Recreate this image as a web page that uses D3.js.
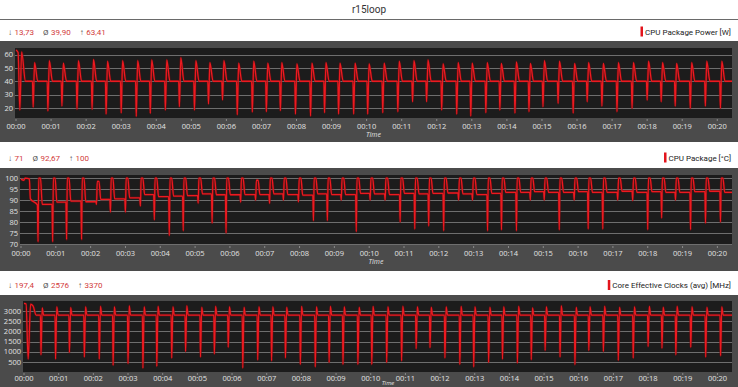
<!DOCTYPE html>
<html lang="en">
<head>
<meta charset="UTF-8">
<title>r15loop</title>
<script src="https://d3js.org/d3.v7.min.js"></script>
<style>
  body { margin: 0; background: #fff; }
  svg { display: block; font-family: "Open Sans", "Noto Sans", sans-serif; }
  .head { font-family: Roboto, "Open Sans", sans-serif; }
</style>
</head>
<body>
<div id="chart"></div>
<script>
// time axis (minutes), labels
const tickMinutes = [0, 1, 2, 3, 4, 5, 6, 7, 8, 9, 10, 11, 12, 13, 14, 15, 16, 17, 18, 19, 20];
const tickLabels = ["00:00", "00:01", "00:02", "00:03", "00:04", "00:05", "00:06", "00:07", "00:08", "00:09", "00:10",
  "00:11", "00:12", "00:13", "00:14", "00:15", "00:16", "00:17", "00:18", "00:19", "00:20"];
const endMinute = 20.42;

// moment each Cinebench run ends (the dip), in minutes
const cycleTimes = [0.49, 0.91, 1.31, 1.74, 2.17, 2.57, 3.00, 3.43, 3.83, 4.26, 4.66, 5.09, 5.49, 5.89, 6.31, 6.74,
  7.14, 7.54, 7.97, 8.40, 8.80, 9.20, 9.63, 10.03, 10.46, 10.89, 11.31, 11.71, 12.14, 12.57, 12.97, 13.40,
  13.80, 14.23, 14.63, 15.03, 15.46, 15.89, 16.29, 16.71, 17.14, 17.57, 18.00, 18.40, 18.80, 19.23, 19.66, 20.09];

// CPU Package Power [W]
const powerStart = [[0, 63.41], [0.06, 61.5], [0.11, 18.5], [0.16, 62], [0.27, 40]];
const powerLevel = 40;
const powerDips = [20.7, 17.8, 21.5, 19, 19, 15.5, 16.3, 13.73, 16, 18.5, 21, 18.5, 23, 26, 15, 17,
  17.3, 18, 15.5, 14, 16.5, 15.5, 15.5, 15.5, 16.5, 17.3, 24.7, 24.7, 18.5, 15.5, 14, 16.5,
  18.5, 16.2, 17.3, 21, 23.4, 16.2, 24.7, 21.5, 17.3, 19.8, 25.9, 24.7, 21.5, 19.8, 21.5, 19.8];
const powerPeaks = [54, 55.5, 53.5, 55.5, 56.3, 55, 55.5, 55.5, 56, 56, 57.7, 55.5, 54, 55.5, 53.5, 55,
  53.5, 54, 53, 53.5, 54, 53.5, 53.5, 53, 53.5, 55, 55.5, 56, 53, 54, 53.5, 54,
  53.3, 54.5, 53.3, 55.5, 55, 53.3, 54, 53.3, 54, 54, 55, 54, 53.3, 54, 55, 55];

// CPU Package [°C]
const tempStart = [[0, 99.5], [0.08, 99], [0.12, 100], [0.24, 99.6], [0.27, 90.5], [0.47, 87.8]];
const tempDips = [71, 71, 72, 72, 88, 84.5, 84.5, 87.3, 81, 73.8, 76, 88.6, 79.5, 75, 89, 90,
  88.5, 90, 89.2, 80.6, 80.6, 90, 75.6, 90, 90, 80, 76.8, 78.2, 76, 90, 90, 76,
  76.4, 76, 90, 90, 76.4, 90, 76.8, 76.8, 90, 89.7, 76.5, 81.8, 90, 76.5, 79.5, 80];
const tempPeaks = [100, 100, 100, 100, 98.5, 100, 100, 100, 100, 100, 100, 100, 100, 100, 100, 99,
  100, 100, 100, 100, 100, 100, 100, 100, 100, 100, 100, 100, 100, 100, 100, 100,
  100, 100, 100, 100, 100, 100, 100, 100, 100, 100, 100, 100, 100, 100, 100, 100];
const tempLevels = [88, 89, 89.5, 89.2, 90.3, 90.5, 91, 92.5, 91.5, 91.8, 92, 92.8, 92.4, 92.4, 92.5, 92.5,
  92.8, 92.5, 92.2, 92.8, 92.5, 92.5, 93, 92.8, 92.5, 93, 92.8, 93, 93.2, 92.8, 92.5, 93,
  93.5, 93.5, 93.8, 93.5, 93.5, 93.8, 93.5, 93.5, 94, 93.5, 93.8, 93.5, 93.5, 93.8, 94, 93.5];

// Core Effective Clocks (avg) [MHz]
const clockStart = [[0, 3370], [0.06, 3340], [0.12, 645], [0.19, 3330], [0.26, 3250], [0.35, 2800]];
const clockLevel = 2800;
const clockDips = [855, 645, 968, 742, 645, 339, 419, 197.4, 290, 694, 1016, 742, 903, 1226, 210, 600,
  560, 700, 380, 260, 480, 380, 380, 380, 480, 560, 1150, 1200, 700, 380, 260, 480,
  645, 452, 613, 1065, 742, 371, 1065, 1016, 581, 694, 1258, 1177, 855, 1226, 742, 806];
const clockPeaks = [3150, 3200, 3170, 3200, 3230, 3200, 3250, 3200, 3230, 3200, 3250, 3180, 3230, 3200, 3180, 3200,
  3200, 3180, 3220, 3200, 3230, 3200, 3180, 3220, 3200, 3230, 3200, 3180, 3200, 3220, 3200, 3180,
  3200, 3230, 3150, 3200, 3250, 3180, 3200, 3230, 3180, 3200, 3220, 3180, 3230, 3200, 3180, 3200];

// headers
const seriesNames = ["CPU Package Power [W]", "CPU Package [°C]", "Core Effective Clocks (avg) [MHz]"];
const minLabels = ["13,73", "71", "197,4"];
const avgLabels = ["39,90", "92,67", "2576"];
const maxLabels = ["63,41", "100", "3370"];
const yTickValues = [[20, 30, 40, 50, 60], [70, 75, 80, 85, 90, 95, 100], [500, 1000, 1500, 2000, 2500, 3000]];
const yDomains = [[12.5, 64.9], [69.5, 101.4], [10, 3490]];

// build line vertices from the read key values
function powerPoints() {
  const pts = powerStart.slice();
  cycleTimes.forEach((t, i) => {
    pts.push([t - 0.02, powerLevel], [t, powerDips[i]], [t + 0.04, powerPeaks[i]], [t + 0.13, powerLevel]);
  });
  pts.push([endMinute, powerLevel]);
  return pts;
}
function tempPoints() {
  const pts = tempStart.slice();
  cycleTimes.forEach((t, i) => {
    const prev = i === 0 ? tempStart[tempStart.length - 1][1] : tempLevels[i - 1];
    pts.push([t - 0.02, prev], [t, tempDips[i]], [t + 0.02, tempPeaks[i]], [t + 0.07, tempPeaks[i]], [t + 0.12, tempLevels[i]]);
  });
  pts.push([endMinute, tempLevels[tempLevels.length - 1]]);
  return pts;
}
function clockPoints() {
  const pts = clockStart.slice();
  cycleTimes.forEach((t, i) => {
    pts.push([t - 0.015, clockLevel], [t, clockDips[i]], [t + 0.035, clockPeaks[i]], [t + 0.075, clockLevel]);
  });
  pts.push([endMinute, clockLevel]);
  return pts;
}
const seriesPoints = [powerPoints(), tempPoints(), clockPoints()];

// layout
const W = 738, H = 387;
const panels = [
  { grayTop: 41, grayBottom: 142, l: 15, t: 48, r: 732, b: 118, headY: 31.5, labelY: 128.5, timeY: 137, timeDx: 0, timeSize: 7 },
  { grayTop: 168, grayBottom: 271, l: 20, t: 175, r: 732, b: 245, headY: 157.5, labelY: 255.5, timeY: 264, timeDx: 0, timeSize: 7 },
  // bottom panel is cut by the image edge: "Time" sits between two tick labels
  { grayTop: 295, grayBottom: 387, l: 23, t: 301, r: 732, b: 372, headY: 285, labelY: 380.5, timeY: 385, timeDx: 10.5, timeSize: 6 }
];

const svg = d3.select("#chart").append("svg").attr("width", W).attr("height", H);
svg.append("rect").attr("width", W).attr("height", H).attr("fill", "#fff");

svg.append("text").attr("class", "head").attr("x", W / 2).attr("y", 13).attr("text-anchor", "middle")
  .attr("font-size", 10).attr("fill", "#333").text("r15loop");
svg.append("line").attr("x1", 0).attr("x2", W).attr("y1", 19.5).attr("y2", 19.5)
  .attr("stroke", "#6a6a6a").attr("stroke-width", 1.2);

panels.forEach((p, k) => {
  const g = svg.append("g");

  // header: min / avg / max
  let hx = 8;
  [["↓", minLabels[k]], ["Ø", avgLabels[k]], ["↑", maxLabels[k]]].forEach(([sym, val]) => {
    const s = g.append("text").attr("class", "head").attr("x", hx).attr("y", p.headY + 3)
      .attr("font-size", 8).attr("fill", "#555").text(sym);
    hx += s.node().getComputedTextLength() + 2.5;
    const v = g.append("text").attr("class", "head").attr("x", hx).attr("y", p.headY + 3)
      .attr("font-size", 8).attr("fill", "#d23b3b").text(val);
    hx += v.node().getComputedTextLength() + 9;
  });

  // legend
  const leg = g.append("text").attr("class", "head").attr("x", 731).attr("y", p.headY + 3)
    .attr("text-anchor", "end").attr("font-size", 8).attr("fill", "#222").text(seriesNames[k]);
  const lw = leg.node().getComputedTextLength();
  g.append("rect").attr("x", 731 - lw - 4.5).attr("y", p.headY - 5).attr("width", 2.5).attr("height", 10)
    .attr("fill", "#e3141c");

  // panel background and plot area
  g.append("rect").attr("x", 0).attr("y", p.grayTop).attr("width", W).attr("height", p.grayBottom - p.grayTop)
    .attr("fill", "#4b4b4b");
  g.append("rect").attr("x", p.l).attr("y", p.t).attr("width", p.r - p.l).attr("height", p.b - p.t)
    .attr("fill", "#1c1c1c");

  const x = d3.scaleLinear().domain([0, endMinute]).range([p.l + 1, p.r]);
  const y = d3.scaleLinear().domain(yDomains[k]).range([p.b, p.t]);

  // grid
  g.append("g").selectAll("line").data(yTickValues[k]).join("line")
    .attr("x1", p.l).attr("x2", p.r)
    .attr("y1", d => Math.round(y(d)) + 0.5).attr("y2", d => Math.round(y(d)) + 0.5)
    .attr("stroke", "#6e6e6e").attr("stroke-width", 1);

  // y labels
  g.append("g").selectAll("text").data(yTickValues[k]).join("text")
    .attr("x", p.l - 2).attr("y", d => y(d) + 2.6).attr("text-anchor", "end")
    .attr("font-size", 7.5).attr("fill", "#e2e2e2").text(d => d);

  // x ticks and labels
  g.append("g").selectAll("line").data(tickMinutes).join("line")
    .attr("x1", d => x(d)).attr("x2", d => x(d)).attr("y1", p.b + 1).attr("y2", p.b + 3)
    .attr("stroke", "#9a9a9a").attr("stroke-width", 0.8);
  g.append("g").selectAll("text").data(tickMinutes).join("text")
    .attr("x", d => x(d)).attr("y", p.labelY).attr("text-anchor", "middle")
    .attr("font-size", 7.5).attr("fill", "#e2e2e2").text((d, i) => tickLabels[i]);
  g.append("text").attr("x", (p.l + p.r) / 2 + p.timeDx).attr("y", p.timeY).attr("text-anchor", "middle")
    .attr("font-size", p.timeSize).attr("font-style", "italic").attr("fill", "#e2e2e2").text("Time");

  // series line
  const line = d3.line().x(d => x(d[0])).y(d => y(d[1])).curve(d3.curveMonotoneX);
  const clip = "clip" + k;
  g.append("clipPath").attr("id", clip).append("rect")
    .attr("x", p.l).attr("y", p.t).attr("width", p.r - p.l).attr("height", p.b - p.t);
  g.append("path").datum(seriesPoints[k]).attr("clip-path", `url(#${clip})`)
    .attr("d", line).attr("fill", "none").attr("stroke", "#7a0b0f").attr("stroke-width", 2.6)
    .attr("stroke-opacity", 0.55);
  g.append("path").datum(seriesPoints[k]).attr("clip-path", `url(#${clip})`)
    .attr("d", line).attr("fill", "none").attr("stroke", "#ec1a20").attr("stroke-width", 1.3);
});
</script>
</body>
</html>
